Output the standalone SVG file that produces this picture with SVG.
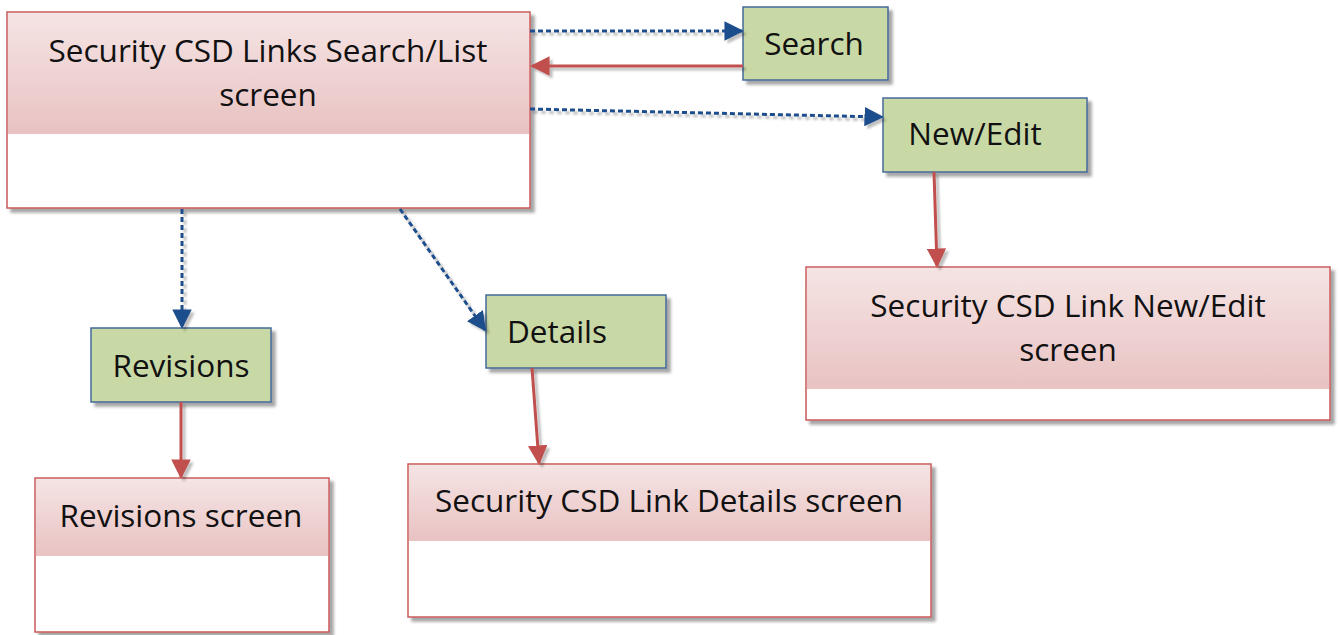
<svg xmlns="http://www.w3.org/2000/svg" width="1340" height="635" viewBox="0 0 1340 635">
<style>
.scr{fill:#fff;stroke:#c9595a;stroke-width:1.5}
.act{fill:#c9d9a5;stroke:#44699a;stroke-width:1.5}
.t{font-family:"Open Sans","Liberation Sans",sans-serif;font-size:31.5px;fill:#111;text-anchor:middle}
.dash{fill:none;stroke:#1f4e8c;stroke-width:3;stroke-dasharray:5,3}
.solid{fill:none;stroke:#c0504d;stroke-width:3}
</style>
<defs>
<linearGradient id="pk" x1="0" y1="0" x2="0" y2="1">
<stop offset="0" stop-color="#f5e4e4"/>
<stop offset="1" stop-color="#e9c2c2"/>
</linearGradient>
<filter id="sh" x="-10%" y="-10%" width="130%" height="130%">
<feDropShadow dx="4" dy="4" stdDeviation="1.5" flood-color="#000" flood-opacity="0.35"/>
</filter>
<filter id="lsh" x="-20%" y="-20%" width="140%" height="140%">
<feDropShadow dx="3" dy="3" stdDeviation="1" flood-color="#000" flood-opacity="0.25"/>
</filter>
<marker id="ab" viewBox="0 0 10 10" refX="9" refY="5" markerWidth="6.5" markerHeight="6.5" orient="auto" markerUnits="strokeWidth">
<path d="M0,0 L10,5 L0,10 z" fill="#1f4e8c"/>
</marker>
<marker id="ar" viewBox="0 0 10 10" refX="9" refY="5" markerWidth="6.5" markerHeight="6.5" orient="auto" markerUnits="strokeWidth">
<path d="M0,0 L10,5 L0,10 z" fill="#c0504d"/>
</marker>
</defs>
<rect width="1340" height="635" fill="#fff"/>

<g id="main">
<rect x="7" y="12" width="523" height="196" class="scr" filter="url(#sh)"/>
<rect x="8" y="13" width="521" height="121" fill="url(#pk)"/>
<text class="t" x="268" y="62">Security CSD Links Search/List</text>
<text class="t" x="268" y="106">screen</text>
</g>

<g id="search">
<rect x="743" y="7" width="145" height="73" class="act" filter="url(#sh)"/>
<text class="t" x="814" y="55">Search</text>
</g>

<g id="newedit">
<rect x="883" y="98" width="204" height="74" class="act" filter="url(#sh)"/>
<text class="t" x="975" y="145">New/Edit</text>
</g>

<g id="revisions">
<rect x="91" y="328" width="180" height="74" class="act" filter="url(#sh)"/>
<text class="t" x="181" y="377">Revisions</text>
</g>

<g id="details">
<rect x="486" y="295" width="180" height="73" class="act" filter="url(#sh)"/>
<text class="t" x="557" y="343">Details</text>
</g>

<g id="neweditscreen">
<rect x="806" y="267" width="524" height="153" class="scr" filter="url(#sh)"/>
<rect x="807" y="268" width="522" height="121" fill="url(#pk)"/>
<text class="t" x="1068" y="317">Security CSD Link New/Edit</text>
<text class="t" x="1068" y="361">screen</text>
</g>

<g id="detailsscreen">
<rect x="408" y="464" width="523" height="153" class="scr" filter="url(#sh)"/>
<rect x="409" y="465" width="521" height="76" fill="url(#pk)"/>
<text class="t" x="669" y="512">Security CSD Link Details screen</text>
</g>

<g id="revisionsscreen">
<rect x="35" y="478" width="294" height="154" class="scr" filter="url(#sh)"/>
<rect x="36" y="479" width="292" height="77" fill="url(#pk)"/>
<text class="t" x="181" y="527">Revisions screen</text>
</g>

<g id="connectors" filter="url(#lsh)">
<path class="dash" d="M530,31 L742,31" marker-end="url(#ab)"/>
<path class="solid" d="M743,66 L532,66" marker-end="url(#ar)"/>
<path class="dash" d="M530,109 L882,117" marker-end="url(#ab)"/>
<path class="dash" d="M182,209 L182,327" marker-end="url(#ab)"/>
<path class="dash" d="M400,209 L485,330" marker-end="url(#ab)"/>
<path class="solid" d="M934,172 L937,266" marker-end="url(#ar)"/>
<path class="solid" d="M532,368 L539,463" marker-end="url(#ar)"/>
<path class="solid" d="M181,402 L181,477" marker-end="url(#ar)"/>
</g>
</svg>
